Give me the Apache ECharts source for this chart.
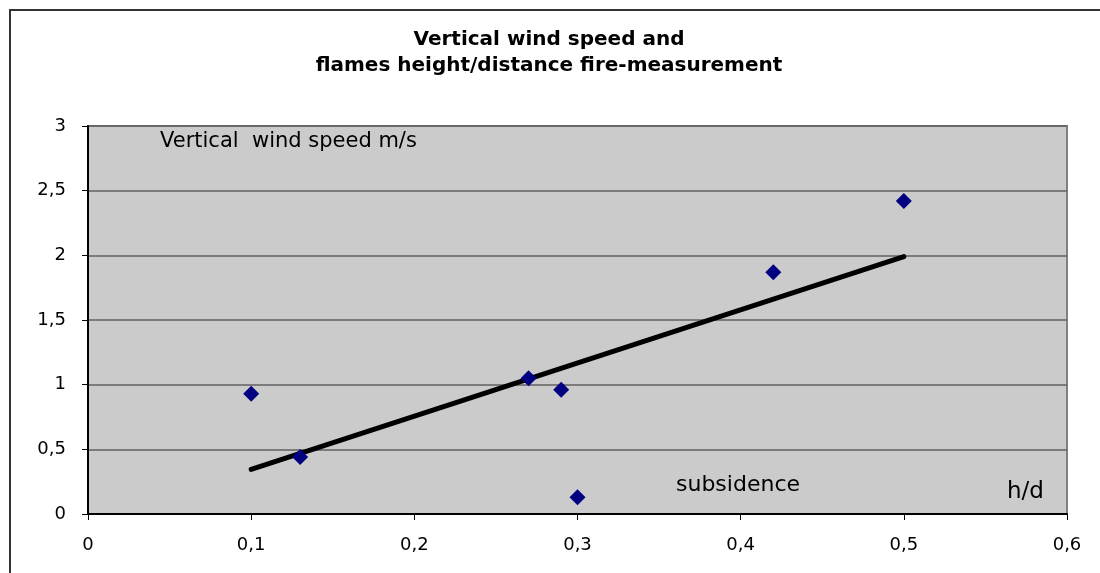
<!DOCTYPE html>
<html>
<head>
<meta charset="utf-8">
<script src="https://cdn.jsdelivr.net/npm/echarts@6/dist/echarts.min.js"></script>
<style>html,body{margin:0;padding:0;background:#fff}#c{width:1100px;height:573px}</style>
</head>
<body>
<div id="c"></div>
<script>
const hd = [0.1, 0.13, 0.27, 0.29, 0.3, 0.42, 0.5];
const windSpeed = [0.93, 0.44, 1.05, 0.96, 0.13, 1.87, 2.42];
const xTicks = [0, 0.1, 0.2, 0.3, 0.4, 0.5, 0.6];
const yTicks = [0, 0.5, 1, 1.5, 2, 2.5, 3];
const titleLines = ['Vertical wind speed and', 'flames height/distance fire-measurement'];

// linear least-squares trendline over the data range
const n = hd.length;
const mx = hd.reduce((a, b) => a + b, 0) / n;
const my = windSpeed.reduce((a, b) => a + b, 0) / n;
let sxy = 0, sxx = 0;
for (let i = 0; i < n; i++) { sxy += (hd[i] - mx) * (windSpeed[i] - my); sxx += (hd[i] - mx) ** 2; }
const slope = sxy / sxx, icpt = my - slope * mx;
const xmin = Math.min(...hd), xmax = Math.max(...hd);
const trend = [[xmin, icpt + slope * xmin], [xmax, icpt + slope * xmax]];

const fmt = v => String(v).replace('.', ',');
const font = '"DejaVu Sans", Verdana, sans-serif';

const chart = echarts.init(document.getElementById('c'));
chart.setOption({
  animation: false,
  backgroundColor: '#ffffff',
  title: {
    text: titleLines.join('\n'),
    left: 544, top: 22, textAlign: 'center',
    textStyle: { fontFamily: font, fontWeight: 'bold', fontSize: 20, lineHeight: 26, color: '#000' }
  },
  grid: { left: 88, right: 33, top: 126, bottom: 59, show: true, backgroundColor: '#cbcbcb', borderColor: '#808080', borderWidth: 2 },
  xAxis: {
    type: 'value', min: 0, max: 0.6, interval: 0.1,
    axisLine: { show: true, onZero: false, lineStyle: { color: '#000', width: 2 } },
    axisTick: { show: true, length: 6, lineStyle: { color: '#000', width: 1 } },
    splitLine: { show: false },
    axisLabel: { fontFamily: font, fontSize: 18, color: '#000', margin: 22, formatter: v => fmt(Math.round(v * 10) / 10) }
  },
  yAxis: {
    type: 'value', min: 0, max: 3, interval: 0.5,
    axisLine: { show: true, onZero: false, lineStyle: { color: '#000', width: 2 } },
    axisTick: { show: true, length: 6, lineStyle: { color: '#000', width: 1 } },
    splitLine: { show: true, lineStyle: { color: '#606060', width: 1.5 } },
    axisLabel: { fontFamily: font, fontSize: 18, color: '#000', margin: 22, formatter: v => fmt(v) }
  },
  series: [
    {
      type: 'line', data: trend, symbol: 'none', z: 3,
      lineStyle: { color: '#000', width: 5, cap: 'round' }
    },
    {
      type: 'scatter', data: hd.map((x, i) => [x, windSpeed[i]]), z: 4,
      symbol: 'diamond', symbolSize: [16, 16],
      itemStyle: { color: '#000080', opacity: 1 }
    }
  ],
  graphic: [
    { type: 'rect', shape: { x: 10, y: 10, width: 1200, height: 700 }, style: { fill: 'none', stroke: '#333', lineWidth: 2 }, z: -1, silent: true },
    { type: 'text', left: 160, top: 131, style: { text: 'Vertical  wind speed m/s', fontFamily: font, fontSize: 21, fill: '#000' }, z: 10 },
    { type: 'text', left: 676, top: 474, style: { text: 'subsidence', fontFamily: font, fontSize: 22, fill: '#000' }, z: 10 },
    { type: 'text', left: 1007, top: 481, style: { text: 'h/d', fontFamily: font, fontSize: 23, fill: '#000' }, z: 10 }
  ]
});
</script>
</body>
</html>
